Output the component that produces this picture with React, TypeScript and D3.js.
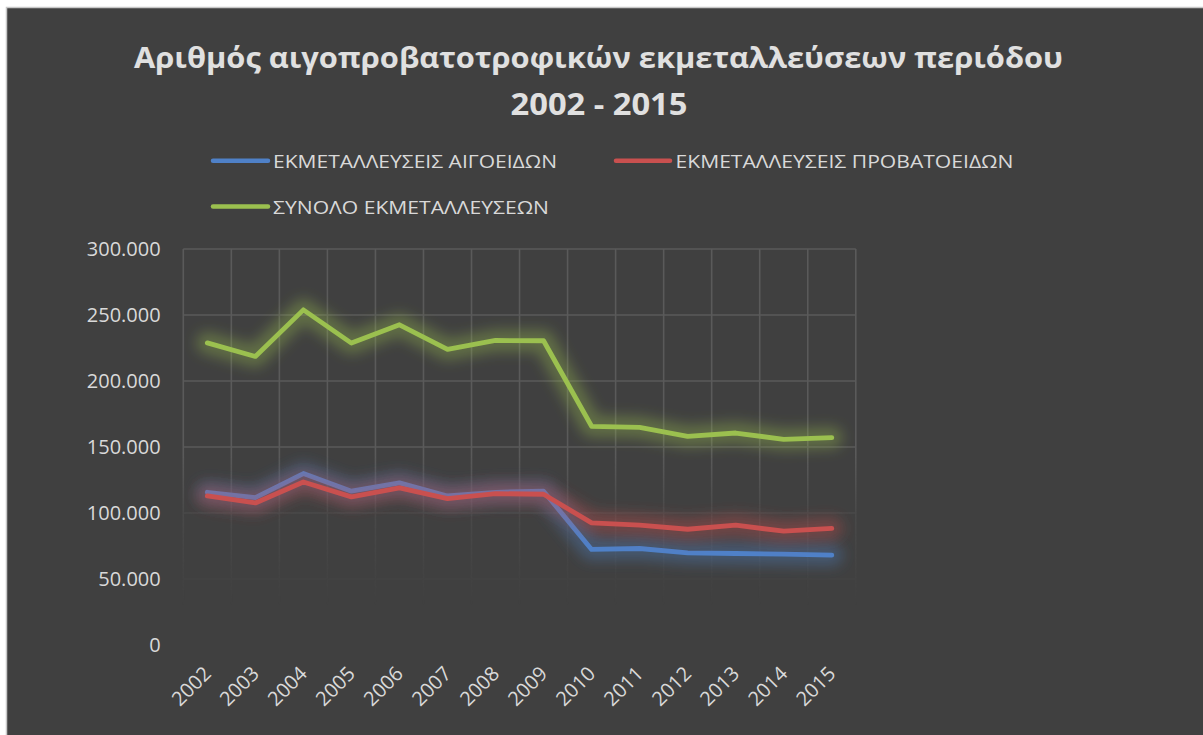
import React from 'react';
import * as d3 from 'd3';

const years = ['2002', '2003', '2004', '2005', '2006', '2007', '2008', '2009', '2010', '2011', '2012', '2013', '2014', '2015'];
const goats = [115700, 111700, 129900, 116500, 122800, 112900, 115700, 116500, 72400, 73100, 69800, 69300, 68800, 68100];
const sheep = [112900, 107600, 123500, 112200, 119000, 110900, 114700, 114200, 92500, 90800, 87700, 90800, 86200, 88300];
const total = [228900, 218600, 253900, 228700, 242600, 223900, 230700, 230500, 165700, 164900, 158100, 160600, 155800, 157100];
const yTicks = [0, 50000, 100000, 150000, 200000, 250000, 300000];
const seriesNames = ['ΕΚΜΕΤΑΛΛΕΥΣΕΙΣ ΑΙΓΟΕΙΔΩΝ', 'ΕΚΜΕΤΑΛΛΕΥΣΕΙΣ ΠΡΟΒΑΤΟΕΙΔΩΝ', 'ΣΥΝΟΛΟ ΕΚΜΕΤΑΛΛΕΥΣΕΩΝ'];
const seriesColors = ['#4f81c8', '#c9504f', '#9bc04f'];
const titleLines = ['Αριθμός αιγοπροβατοτροφικών εκμεταλλεύσεων περιόδου', '2002 - 2015'];

const W = 1203;
const H = 735;
const plot = { left: 183.3, right: 855.8, top: 249, bottom: 645 };
const FONT = '"Open Sans", "Noto Sans", sans-serif';
const TEXT = '#d9d9d9';

const fmt = (v: number) => (v === 0 ? '0' : d3.format(',')(v).replace(/,/g, '.'));

export default function App() {
  const x = d3.scaleBand<string>().domain(years).range([plot.left, plot.right]).padding(0);
  const y = d3.scaleLinear().domain([0, 300000]).range([plot.bottom, plot.top]);
  const cx = (yr: string) => (x(yr) as number) + x.bandwidth() / 2;
  const line = d3
    .line<number>()
    .x((_, i) => cx(years[i]))
    .y((d) => y(d));
  const data = [goats, sheep, total];
  const vLines = years.map((yr) => x(yr) as number).concat([plot.right]);

  const legend = [
    { sx: 213, ex: 268, sy: 160.7, tx: 273, ty: 168, tl: 284 },
    { sx: 616, ex: 670, sy: 160.7, tx: 675.5, ty: 168, tl: 338 },
    { sx: 213, ex: 268, sy: 206.5, tx: 273, ty: 214, tl: 276 },
  ];

  return (
    <svg
      width={W}
      height={H}
      style={{ position: 'absolute', left: 0, top: 0, display: 'block' }}
      xmlns="http://www.w3.org/2000/svg"
    >
      <defs>
        <filter id="glow" x="-10%" y="-60%" width="120%" height="220%">
          <feGaussianBlur stdDeviation="6.5" />
        </filter>
        <linearGradient id="fade" gradientUnits="userSpaceOnUse" x1="0" y1={plot.top} x2="0" y2={plot.bottom}>
          <stop offset="0" stopColor="#fff" stopOpacity="1" />
          <stop offset="0.52" stopColor="#fff" stopOpacity="1" />
          <stop offset="0.67" stopColor="#fff" stopOpacity="0.35" />
          <stop offset="0.9" stopColor="#fff" stopOpacity="0" />
          <stop offset="1" stopColor="#fff" stopOpacity="0" />
        </linearGradient>
        <mask id="gridMask" maskUnits="userSpaceOnUse" x="0" y="0" width={W} height={H}>
          <rect x="0" y="0" width={W} height={H} fill="url(#fade)" />
        </mask>
      </defs>
      <rect x="0" y="0" width={W} height={H} fill="#ffffff" />
      <rect x={6.5} y={7.5} width={W} height={H} fill="#404040" stroke="#c8c8c8" strokeWidth={1.5} />

      {titleLines.map((t, i) => (
        <text
          key={i}
          x={i === 0 ? 598.5 : 599}
          y={i === 0 ? 68 : 115}
          textAnchor="middle"
          fill="#e0e0e0"
          fontFamily={FONT}
          fontWeight="bold"
          fontSize={i === 0 ? 29 : 30}
          textLength={i === 0 ? 929 : 177}
          lengthAdjust="spacingAndGlyphs"
        >
          {t}
        </text>
      ))}

      {legend.map((l, i) => (
        <g key={i}>
          <line x1={l.sx} x2={l.ex} y1={l.sy} y2={l.sy} stroke={seriesColors[i]} strokeWidth={4.5} strokeLinecap="round" />
          <text x={l.tx} y={l.ty} fill={TEXT} fontFamily={FONT} fontSize={19} textLength={l.tl} lengthAdjust="spacingAndGlyphs">
            {seriesNames[i]}
          </text>
        </g>
      ))}

      <g mask="url(#gridMask)" stroke="#5a5a5a" strokeWidth={1.6}>
        {yTicks.map((t) => (
          <line key={t} x1={plot.left} x2={plot.right} y1={y(t)} y2={y(t)} />
        ))}
        {vLines.map((v, i) => (
          <line key={i} x1={v} x2={v} y1={plot.top} y2={plot.bottom} />
        ))}
      </g>

      {yTicks.map((t) => (
        <text key={t} x={160.7} y={y(t) + 7} textAnchor="end" fill={TEXT} fontFamily={FONT} fontSize={20}>
          {fmt(t)}
        </text>
      ))}

      {years.map((yr) => (
        <text
          key={yr}
          transform={`translate(${cx(yr) + 5},${675}) rotate(-45)`}
          textAnchor="end"
          fill={TEXT}
          fontFamily={FONT}
          fontSize={20}
        >
          {yr}
        </text>
      ))}

      {data.map((s, i) => (
        <g key={i}>
          <path
            d={line(s) || ''}
            fill="none"
            stroke={seriesColors[i]}
            strokeOpacity={0.36}
            strokeWidth={22}
            strokeLinejoin="round"
            strokeLinecap="round"
            filter="url(#glow)"
          />
          <path
            d={line(s) || ''}
            fill="none"
            stroke={seriesColors[i]}
            strokeWidth={4.8}
            strokeLinejoin="round"
            strokeLinecap="round"
          />
        </g>
      ))}
    </svg>
  );
}
